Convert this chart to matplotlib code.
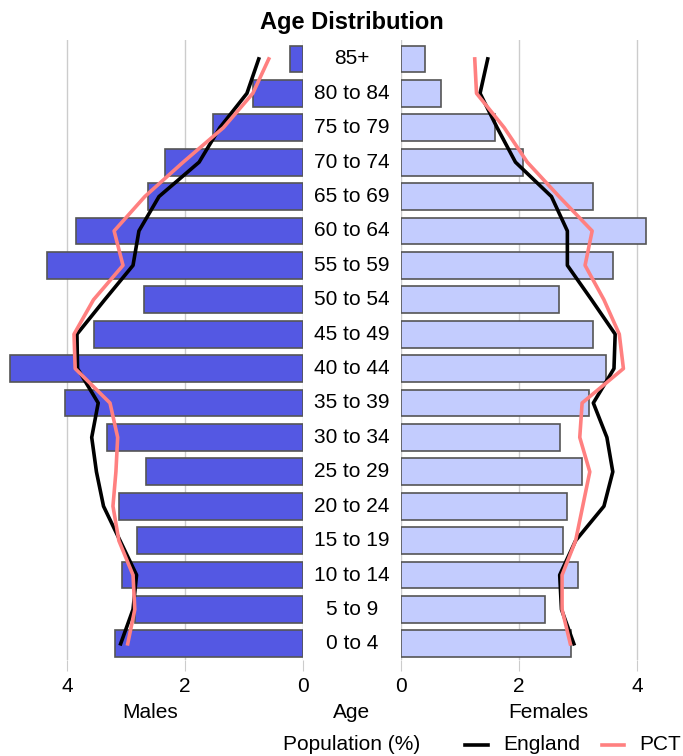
"""Age distribution pyramid: practice population vs England."""

import matplotlib

matplotlib.use("Agg")

import matplotlib.pyplot as plt
import numpy as np
from matplotlib.lines import Line2D

AGES = ["0 to 4", "5 to 9", "10 to 14", "15 to 19", "20 to 24", "25 to 29",
        "30 to 34", "35 to 39", "40 to 44", "45 to 49", "50 to 54", "55 to 59",
        "60 to 64", "65 to 69", "70 to 74", "75 to 79", "80 to 84", "85+"]

MALES = [3.18, 2.85, 3.07, 2.81, 3.12, 2.66, 3.32, 4.04, 4.97, 3.54, 2.69,
         4.34, 3.85, 2.63, 2.34, 1.53, 0.85, 0.22]
FEMALES = [2.89, 2.44, 3.00, 2.74, 2.81, 3.07, 2.70, 3.18, 3.48, 3.26, 2.67,
           3.59, 4.15, 3.26, 2.07, 1.59, 0.68, 0.41]

ENGLAND_M = [3.09, 2.88, 2.82, 3.10, 3.38, 3.50, 3.58, 3.47, 3.82, 3.83, 3.36,
             2.88, 2.78, 2.44, 1.76, 1.41, 0.95, 0.75]
PCT_M = [2.97, 2.85, 2.88, 3.12, 3.22, 3.17, 3.14, 3.27, 3.86, 3.88, 3.55,
         3.05, 3.20, 2.68, 2.03, 1.35, 0.85, 0.58]
ENGLAND_F = [2.93, 2.72, 2.69, 2.96, 3.44, 3.59, 3.49, 3.26, 3.61, 3.63, 3.23,
             2.82, 2.82, 2.55, 1.94, 1.63, 1.34, 1.47]
PCT_F = [2.87, 2.73, 2.73, 2.96, 3.08, 3.20, 3.03, 3.07, 3.77, 3.70, 3.44,
         3.12, 3.24, 2.68, 2.14, 1.75, 1.28, 1.25]

MALE_COLOR = "#5458E3"
FEMALE_COLOR = "#C3CCFE"
EDGE = "#555555"
PCT_COLOR = "#FF8080"
GRID = "#CCCCCC"
FS = 15

plt.rcParams.update({
    "font.family": ["Liberation Sans", "DejaVu Sans"],
    "font.size": FS,
})

W, H = 683, 756
fig = plt.figure(figsize=(W / 100, H / 100), dpi=100)


def fx(px):
    return px / W


def fy(py):
    return 1 - py / H


top, bottom = 40, 660
ax_m = fig.add_axes([fx(2), fy(bottom), fx(303 - 2), (bottom - top) / H])
ax_a = fig.add_axes([fx(303), fy(bottom), fx(401 - 303), (bottom - top) / H])
ax_f = fig.add_axes([fx(401), fy(bottom), fx(683 - 401), (bottom - top) / H])

y = np.arange(len(AGES))
bar_h = 0.78

ax_m.barh(y, MALES, height=bar_h, color=MALE_COLOR, edgecolor=EDGE,
          linewidth=1.2, zorder=2)
ax_m.plot(ENGLAND_M, y, color="black", lw=2.6, zorder=3)
ax_m.plot(PCT_M, y, color=PCT_COLOR, lw=2.6, zorder=3)
ax_m.set_xlim(5.1, 0)

ax_f.barh(y, FEMALES, height=bar_h, color=FEMALE_COLOR, edgecolor=EDGE,
          linewidth=1.2, zorder=2)
ax_f.plot(ENGLAND_F, y, color="black", lw=2.6, zorder=3)
ax_f.plot(PCT_F, y, color=PCT_COLOR, lw=2.6, zorder=3)
ax_f.set_xlim(0, 4.78)

ylim = (-0.47, len(AGES) - 0.45)
for ax in (ax_m, ax_f):
    ax.set_ylim(ylim)
    ax.set_xticks([0, 2, 4])
    ax.set_yticks([])
    ax.grid(axis="x", color=GRID, lw=1.0, zorder=0)
    ax.tick_params(axis="x", length=8, color=GRID, pad=4, labelsize=FS)
    for s in ax.spines.values():
        s.set_visible(False)

ax_a.set_xlim(0, 1)
ax_a.set_ylim(ylim)
ax_a.set_axis_off()
for yi, label in zip(y, AGES):
    ax_a.text(0.5, yi, label, ha="center", va="center", fontsize=FS)

fig.text(fx(150), fy(712), "Males", ha="center", va="center", fontsize=FS)
fig.text(fx(352), fy(712), "Age", ha="center", va="center", fontsize=FS)
fig.text(fx(548), fy(712), "Females", ha="center", va="center", fontsize=FS)
fig.text(fx(352), fy(23), "Age Distribution", ha="center", va="center",
         fontsize=17, fontweight="bold")
fig.text(fx(352), fy(745), "Population (%)", ha="center", va="center",
         fontsize=FS)

# legend drawn by hand so it sits where the original does
fig.add_artist(Line2D([fx(465), fx(488)], [fy(745), fy(745)],
                      color="black", lw=2.6))
fig.text(fx(503), fy(745), "England", ha="left", va="center", fontsize=FS)
fig.add_artist(Line2D([fx(602), fx(624)], [fy(745), fy(745)],
                      color=PCT_COLOR, lw=2.6))
fig.text(fx(639), fy(745), "PCT", ha="left", va="center", fontsize=FS)

fig.savefig("out.png", dpi=100)
